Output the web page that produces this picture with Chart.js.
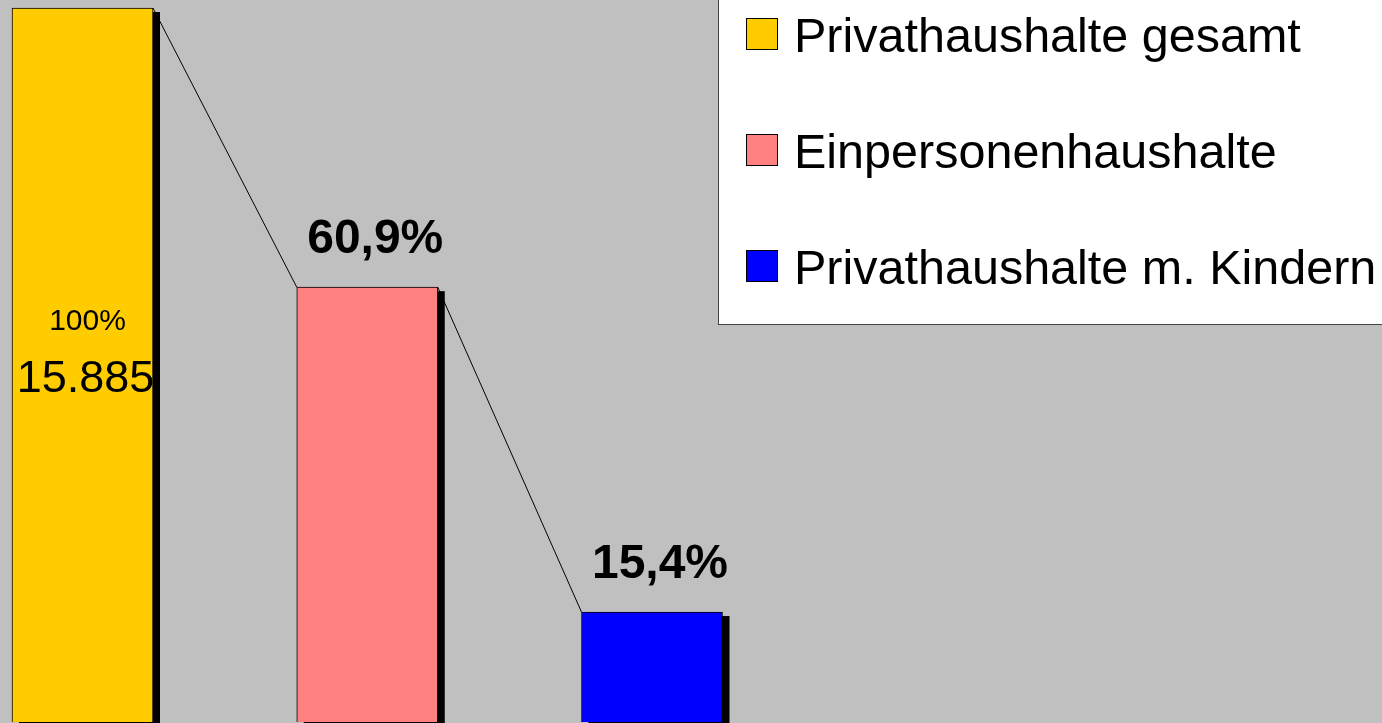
<!DOCTYPE html>
<html>
<head>
<meta charset="utf-8">
<script src="https://cdn.jsdelivr.net/npm/chart.js@4"></script>
<style>
  html, body { margin: 0; padding: 0; background: #c0c0c0; overflow: hidden; }
  canvas { display: block; }
</style>
</head>
<body>
<canvas id="hhChart" width="1382" height="723"></canvas>
<script>
// data
const categories = ["Privathaushalte gesamt", "Einpersonenhaushalte", "Privathaushalte m. Kindern"];
const shares = [100, 60.9, 15.4];
const shareLabels = ["100%", "60,9%", "15,4%"];
const totalLabel = "15.885";
const barColors = ["#ffcc00", "#ff8080", "#0000ff"];

const FONT = '"Liberation Sans", Arial, sans-serif';

// black drop shadow behind each bar
const shadowPlugin = {
  id: "shadow",
  beforeDatasetsDraw(chart) {
    const ctx = chart.ctx;
    const bars = chart.getDatasetMeta(0).data;
    ctx.save();
    ctx.fillStyle = "#000";
    bars.forEach(function (b) {
      const left = b.x - b.width / 2;
      ctx.fillRect(left + 7, b.y + 4, b.width, b.base - b.y + 10);
    });
    ctx.restore();
  }
};

// connector lines, value labels, legend box
const decorPlugin = {
  id: "decor",
  afterDatasetsDraw(chart) {
    const ctx = chart.ctx;
    const bars = chart.getDatasetMeta(0).data;
    ctx.save();

    // lines from top right of one bar to top left of next
    ctx.strokeStyle = "#000";
    ctx.lineWidth = 1;
    for (let i = 0; i < bars.length - 1; i++) {
      const a = bars[i], b = bars[i + 1];
      ctx.beginPath();
      ctx.moveTo(a.x + a.width / 2, a.y);
      ctx.lineTo(b.x - b.width / 2, b.y);
      ctx.stroke();
    }

    ctx.fillStyle = "#000";
    ctx.textAlign = "center";
    ctx.textBaseline = "alphabetic";

    // first bar: label inside
    const first = bars[0];
    ctx.font = "30px " + FONT;
    ctx.fillText(shareLabels[0], first.x + 5, 330);
    ctx.font = "45px " + FONT;
    ctx.fillText(totalLabel, first.x + 3, 392);

    // other bars: bold label above
    ctx.font = "bold 48px " + FONT;
    for (let i = 1; i < bars.length; i++) {
      ctx.fillText(shareLabels[i], bars[i].x + 8, bars[i].y - 34);
    }

    // legend
    ctx.fillStyle = "#fff";
    ctx.fillRect(718, -10, 700, 334);
    ctx.strokeStyle = "#444";
    ctx.strokeRect(718.5, -10, 700, 334.5);
    ctx.textAlign = "left";
    ctx.font = "48.5px " + FONT;
    categories.forEach(function (c, i) {
      const top = 18 + i * 116;
      ctx.fillStyle = barColors[i];
      ctx.fillRect(746, top, 31, 31);
      ctx.strokeStyle = "#000";
      ctx.strokeRect(746.5, top + 0.5, 31, 31);
      ctx.fillStyle = "#000";
      ctx.fillText(c, 794, top + 34);
    });

    ctx.restore();
  }
};

new Chart(document.getElementById("hhChart"), {
  type: "bar",
  data: {
    labels: categories,
    datasets: [{
      data: shares,
      backgroundColor: barColors,
      borderColor: "#000",
      borderWidth: 1,
      barThickness: 141,
      clip: false
    }]
  },
  options: {
    responsive: false,
    animation: false,
    layout: { padding: { left: 82.5, right: 730, top: 8, bottom: 1 } },
    scales: {
      x: { display: false, offset: false },
      y: { display: false, min: 0, max: 100 }
    },
    plugins: {
      legend: { display: false },
      tooltip: { enabled: false }
    }
  },
  plugins: [shadowPlugin, decorPlugin]
});
</script>
</body>
</html>
